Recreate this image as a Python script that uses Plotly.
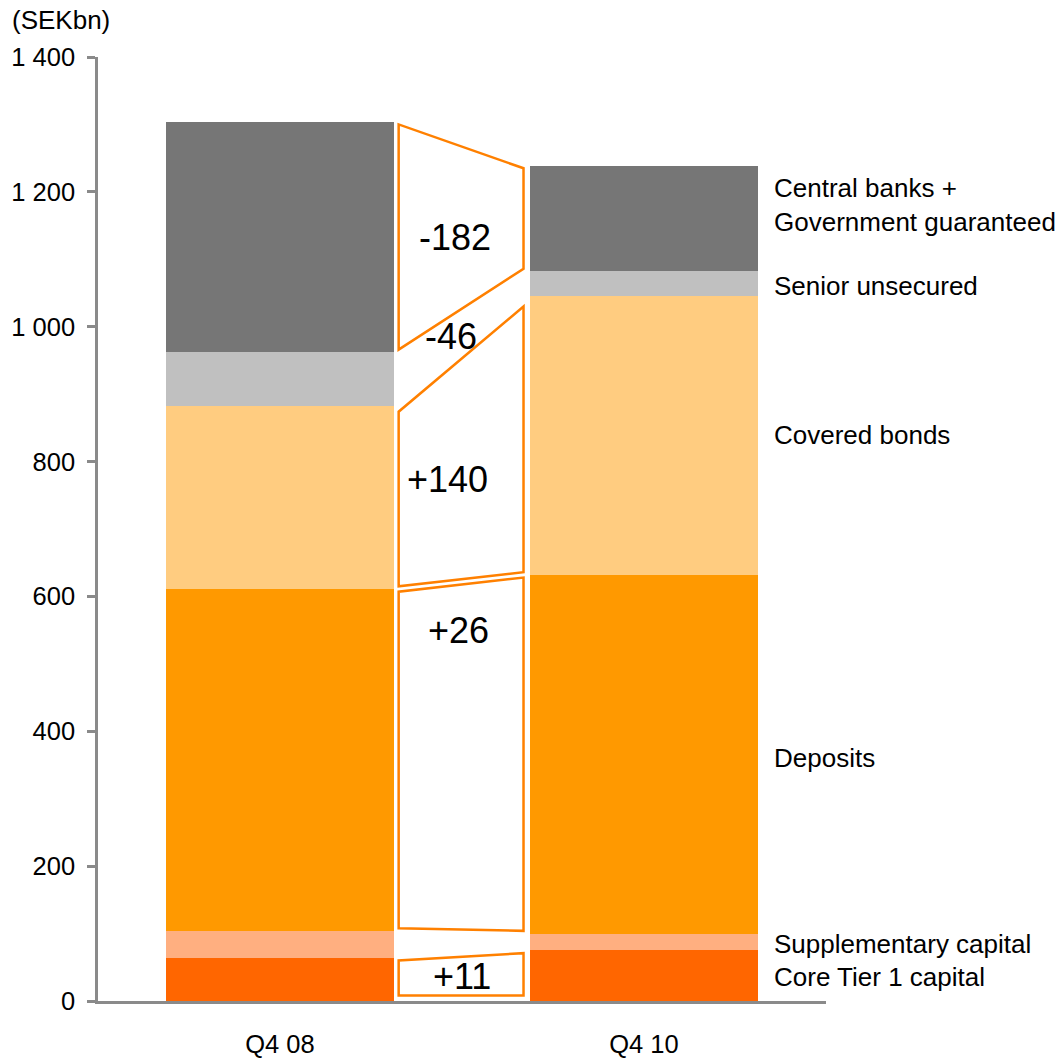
import plotly.graph_objects as go
import numpy as np

periods = ["Q4 08", "Q4 10"]
segments = ["Core Tier 1 capital", "Supplementary capital", "Deposits",
            "Covered bonds", "Senior unsecured", "Central banks +<br>Government guaranteed"]
q408 = [64, 40, 507, 271, 80, 342]
q410 = [75, 25, 532, 414, 36, 157]
colors = ["#FF6600", "#FFAF80", "#FF9900", "#FFCC80", "#C0C0C0", "#767676"]
change_labels = ["+11", None, "+26", "+140", "-46", "-182"]
# label positions (x in category units, y in SEKbn)
label_pos = [(0.50, 36), None, (0.49, 550), (0.46, 773), (0.47, 985), (0.48, 1133)]
legend_y = [36, 85, 360, 840, 1060, 1180]
shape_groups = [[0], [2], [3], [5]]

x = [0, 1]
fig = go.Figure()
for i, name in enumerate(segments):
    fig.add_trace(go.Bar(x=x, y=[q408[i], q410[i]], marker=dict(color=colors[i], line=dict(width=0)),
                         width=0.624, name=name, showlegend=False, hoverinfo="skip"))

cum08 = np.concatenate([[0], np.cumsum(q408)])
cum10 = np.concatenate([[0], np.cumsum(q410)])
xl, xr = 0.326, 0.669
inset = 4
for g in shape_groups:
    lo, hi = g[0], g[-1] + 1
    lb, lt = cum08[lo] + inset, cum08[hi] - inset
    rb, rt = cum10[lo] + inset, cum10[hi] - inset
    if lo == 0:
        lb = rb = 8
    if lo == 3:
        lt -= 4
        rt -= 12
    path = f"M {xl},{lb} L {xl},{lt} L {xr},{rt} L {xr},{rb} Z"
    fig.add_shape(type="path", path=path, xref="x", yref="y",
                  line=dict(color="#FF8000", width=2.5), fillcolor="white", layer="above")

for lab, pos in zip(change_labels, label_pos):
    if lab is None:
        continue
    fig.add_annotation(x=pos[0], y=pos[1], text=lab, showarrow=False, xref="x", yref="y",
                       font=dict(size=36, color="black", family="Liberation Sans, Arial"))

for name, ly in zip(segments, legend_y):
    fig.add_annotation(x=1.352, y=ly, text=name, showarrow=False, xref="x", yref="y",
                       xanchor="left", align="left",
                       font=dict(size=26, color="black", family="Liberation Sans, Arial"))

fig.add_annotation(x=-0.121, y=1.039, xref="paper", yref="paper", text="(SEKbn)", showarrow=False,
                   xanchor="left", yanchor="middle",
                   font=dict(size=26, color="black", family="Liberation Sans, Arial"))

fig.update_layout(
    barmode="stack",
    width=1064, height=1058,
    margin=dict(l=98, r=238, t=57, b=57),
    plot_bgcolor="white", paper_bgcolor="white",
    separators=". ",
    font=dict(family="Liberation Sans, Arial", size=25, color="black"),
)
fig.update_xaxes(range=[-0.5, 1.5], tickvals=x, ticktext=periods, showgrid=False, zeroline=False,
                 showline=True, linecolor="#8A8A8A", linewidth=2.5, ticks="", automargin=False,
                 tickfont=dict(size=25.5), ticklabelstandoff=19)
fig.update_yaxes(range=[0, 1400], tick0=0, dtick=200, tickformat=",d", showgrid=False, zeroline=False,
                 showline=True, linecolor="#8A8A8A", linewidth=2.5, ticks="outside", ticklen=8,
                 automargin=False,
                 tickcolor="#8A8A8A", tickwidth=2.5, tickfont=dict(size=25.5), ticklabelstandoff=7)

fig.write_html("out.html")
